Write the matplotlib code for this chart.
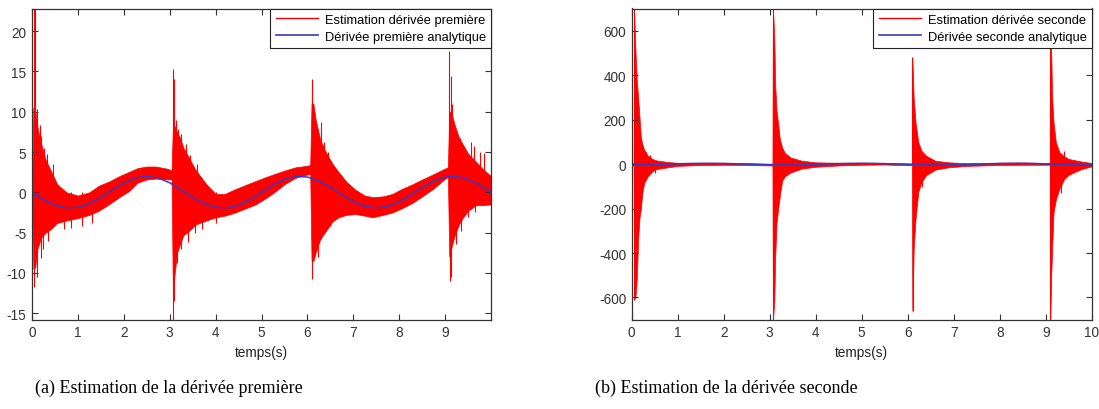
import numpy as np
import matplotlib.pyplot as plt
from matplotlib.lines import Line2D

# ---- (a) first derivative ----
t_env1 = [0, 0.03, 0.07, 0.12, 0.2, 0.3, 0.4, 0.55, 0.75, 1.0, 1.25, 1.45, 1.7, 1.9,
          2.1, 2.3, 2.5, 2.7, 2.97, 3.04, 3.07, 3.11, 3.16, 3.22, 3.3, 3.4, 3.56, 3.8,
          4.0, 4.2, 4.43, 4.65, 4.87, 5.1, 5.3, 5.5, 5.74, 6.0, 6.06, 6.09, 6.13, 6.18,
          6.28, 6.4, 6.55, 6.68, 6.85, 7.05, 7.25, 7.42, 7.65, 7.85, 8.05, 8.29, 8.5,
          8.73, 8.98, 9.06, 9.09, 9.13, 9.2, 9.3, 9.38, 9.5, 9.67, 9.8, 10.0]
upper1 = [-0.5, 10.5, 10.3, 8.0, 6.0, 4.0, 2.8, 1.0, 0.0, -0.4, 0.0, 0.8, 1.4, 2.0,
          2.5, 3.0, 3.2, 3.2, 2.9, 2.7, 8.2, 8.2, 7.5, 6.8, 5.5, 4.5, 2.8, 1.0,
          -0.2, -0.2, 0.4, 0.9, 1.4, 1.9, 2.3, 2.7, 3.1, 3.3, 3.4, 11.0, 11.0, 9.0,
          6.5, 5.0, 3.5, 2.5, 1.3, 0.3, -0.4, -0.6, -0.5, -0.2, 0.4, 1.0, 1.6,
          2.2, 2.9, 3.1, 10.0, 10.0, 8.5, 6.8, 6.0, 4.8, 3.8, 3.0, 2.0]
lower1 = [-0.5, -9.5, -9.3, -7.0, -5.6, -5.0, -4.6, -3.8, -3.5, -3.2, -2.8, -2.3, -1.4, -0.6,
          0.1, 1.2, 1.6, 1.7, 1.6, 1.6, -12.5, -10.0, -7.5, -6.5, -5.3, -4.9, -4.0, -3.5,
          -3.1, -2.9, -2.5, -2.0, -1.5, -0.7, 0.1, 1.0, 1.8, 2.2, 2.3, -8.5, -8.5, -7.5,
          -5.8, -4.8, -3.6, -3.1, -2.8, -2.7, -2.9, -3.1, -2.8, -2.5, -2.0, -1.3, -0.5,
          0.4, 1.6, 1.9, -8.0, -7.0, -5.5, -4.0, -3.2, -2.3, -1.6, -1.6, -1.5]
spk1_t = [0.04, 0.06, 0.1, 0.17, 0.2, 0.26, 0.33, 0.45, 3.07, 3.09, 3.14, 3.18, 3.25,
          3.35, 3.45, 3.6, 6.09, 6.1, 6.15, 6.29, 6.36, 6.45, 9.09, 9.13, 9.16, 9.24,
          9.33, 9.56, 9.63, 9.75, 9.85,
          0.05, 0.1, 0.2, 0.25, 0.35, 0.7, 0.85, 1.1, 1.3, 3.07, 3.09, 3.16, 3.25, 3.4,
          3.55, 3.7, 4.0, 6.1, 6.14, 6.22, 6.29, 6.5, 9.11, 9.12, 9.24, 9.35, 9.5, 9.64]
spk1_v = [23.0, 22.8, 10.3, 8.4, 7.0, 5.5, 4.8, 3.5, 15.3, 14.0, 9.0, 7.8, 7.2,
          6.0, 4.6, 3.5, 14.0, 13.2, 9.5, 8.7, 6.2, 5.0, 17.5, 14.4, 11.0, 7.4,
          6.7, 6.2, 5.8, 5.0, 4.9,
          -11.7, -10.5, -8.1, -7.0, -6.0, -4.5, -4.4, -4.2, -3.8, -15.8, -13.5, -8.8, -7.0, -6.2,
          -5.0, -4.5, -3.8, -10.8, -7.9, -8.0, -5.8, -4.2, -11.0, -10.5, -6.4, -4.8, -3.1, -2.4]

t_ana = [0, 0.25, 0.5, 0.75, 1.0, 1.25, 1.5, 1.75, 2.0, 2.25, 2.5, 2.75, 3.0, 3.25,
         3.5, 3.75, 4.0, 4.25, 4.5, 4.75, 5.0, 5.25, 5.5, 5.75, 6.0, 6.25, 6.5, 6.75,
         7.0, 7.25, 7.5, 7.75, 8.0, 8.25, 8.5, 8.75, 9.0, 9.25, 9.5, 9.75, 10.0]
ana1 = [0, -0.91, -1.6, -1.92, -1.86, -1.4, -0.62, 0.31, 1.18, 1.78, 2.0, 1.78, 1.18, 0.31,
        -0.62, -1.4, -1.86, -1.92, -1.6, -0.91, 0, 0.91, 1.62, 1.98, 1.9, 1.41, 0.62, -0.31,
        -1.18, -1.74, -1.92, -1.74, -1.18, -0.31, 0.62, 1.41, 1.9, 1.98, 1.62, 0.91, 0]

# ---- (b) second derivative ----
t_env2 = [0, 0.04, 0.05, 0.08, 0.11, 0.14, 0.17, 0.2, 0.23, 0.27, 0.35, 0.46, 0.55, 0.8,
          1.0, 1.5, 2.0, 2.5, 3.0, 3.06, 3.07, 3.1, 3.12, 3.15, 3.19, 3.22, 3.27, 3.33,
          3.45, 3.7, 4.0, 4.5, 5.0, 5.5, 6.0, 6.09, 6.1, 6.13, 6.17, 6.23, 6.3, 6.4,
          6.6, 6.9, 7.3, 8.0, 8.5, 9.0, 9.09, 9.1, 9.12, 9.14, 9.17, 9.22, 9.3, 9.4,
          9.5, 9.77, 10.0]
upper2 = [5, 5, 700, 520, 380, 300, 210, 120, 90, 65, 38, 22, 16, 9,
          6, 5, 6, 4, 2, 2, 700, 570, 353, 240, 170, 113, 75, 50,
          30, 15, 8, 6, 6, 5, 3, 3, 480, 300, 189, 99, 60, 38,
          15, 8, 4, 6, 7, 5, 5, 700, 503, 300, 189, 99, 53, 35,
          23, 12, 5]
lower2 = [-5, -5, -610, -600, -520, -338, -240, -200, -130, -85, -55, -30, -22, -14,
          -8, -4, -3, -4, -6, -6, -700, -620, -413, -263, -190, -143, -75, -55,
          -38, -20, -12, -6, -3, -2, -5, -5, -660, -383, -248, -126, -80, -50,
          -25, -14, -8, -4, -3, -3, -3, -700, -503, -380, -218, -160, -110, -68,
          -48, -23, -10]
spk2_t = [0.05, 0.06, 0.3, 0.4, 0.5, 3.08, 3.08, 3.3, 3.4, 6.1, 6.11, 6.3, 9.1, 9.1, 9.33, 9.4]
spk2_v = [700, -610, 55, 40, -40, 700, -700, -60, 40, 480, -660, -105, 700, -700, -130, 60]

ana2 = [-3.8, -3.2, -2.2, -0.8, 1.2, 2.7, 3.6, 3.7, 3.0, 1.7, 0, -1.7, -3.0, -3.7,
        -3.6, -2.7, -1.2, 0.8, 2.2, 3.2, 3.8, 3.2, 2.2, 0.8, -1.2, -2.7, -3.6, -3.7,
        -3.0, -1.7, 0, 1.7, 3.0, 3.7, 3.6, 2.7, 1.2, -0.8, -2.2, -3.2, -3.8]

RED = '#ff0000'
BLUE = '#3a3ac0'
plt.rcParams['font.family'] = ['Liberation Sans', 'DejaVu Sans']
plt.rcParams['axes.unicode_minus'] = False

fig = plt.figure(figsize=(10.99, 4.10), dpi=100)
ax1 = fig.add_axes([32 / 1099, 1 - 320.7 / 410, (491 - 32) / 1099, (320.7 - 9.5) / 410])
ax2 = fig.add_axes([631.7 / 1099, 1 - 320.7 / 410, (1091.7 - 631.7) / 1099, (320.7 - 9.5) / 410])


def draw(ax, te, up, lo, st, sv, ta, an, labels, xlim, ylim, xt, yt):
    ax.fill_between(te, lo, up, color=RED, lw=0.5)
    ax.vlines(st, 0, sv, color=RED, lw=0.8)
    ax.plot(ta, an, color=BLUE, lw=1.1)
    ax.set_xlim(*xlim)
    ax.set_ylim(*ylim)
    ax.set_xticks(xt)
    ax.set_yticks(yt)
    ax.tick_params(direction='in', top=True, right=True, length=4, width=0.8,
                   labelsize=9.8, colors='#333333', pad=4)
    for s in ax.spines.values():
        s.set_color('#333333')
        s.set_linewidth(0.9)
    ax.set_xlabel('temps(s)', fontsize=9.8, color='#222222', labelpad=4)
    handles = [Line2D([], [], color=RED, lw=1.0), Line2D([], [], color=BLUE, lw=1.2)]
    leg = ax.legend(handles, labels, loc='upper right', fontsize=9.3, fancybox=False,
                    framealpha=1, edgecolor='#222222', borderaxespad=0, borderpad=0.4,
                    labelspacing=0.4, handlelength=3.3, handletextpad=0.5)
    leg.get_frame().set_linewidth(0.8)


draw(ax1, t_env1, upper1, lower1, spk1_t, spk1_v, t_ana, ana1,
     ['Estimation dérivée première', 'Dérivée première analytique'],
     (0, 9.999), (-15.8, 22.8), range(0, 10), [-15, -10, -5, 0, 5, 10, 15, 20])
draw(ax2, t_env2, upper2, lower2, spk2_t, spk2_v, t_ana, ana2,
     ['Estimation dérivée seconde', 'Dérivée seconde analytique'],
     (0, 10), (-700, 700), range(0, 11), [-600, -400, -200, 0, 200, 400, 600])

fig.text(35 / 1099, 1 - 388 / 410, '(a) Estimation de la dérivée première',
         family='Liberation Serif', fontsize=13, va='center', ha='left')
fig.text(595 / 1099, 1 - 388 / 410, '(b) Estimation de la dérivée seconde',
         family='Liberation Serif', fontsize=13, va='center', ha='left')

fig.savefig('out.png', dpi=100)
